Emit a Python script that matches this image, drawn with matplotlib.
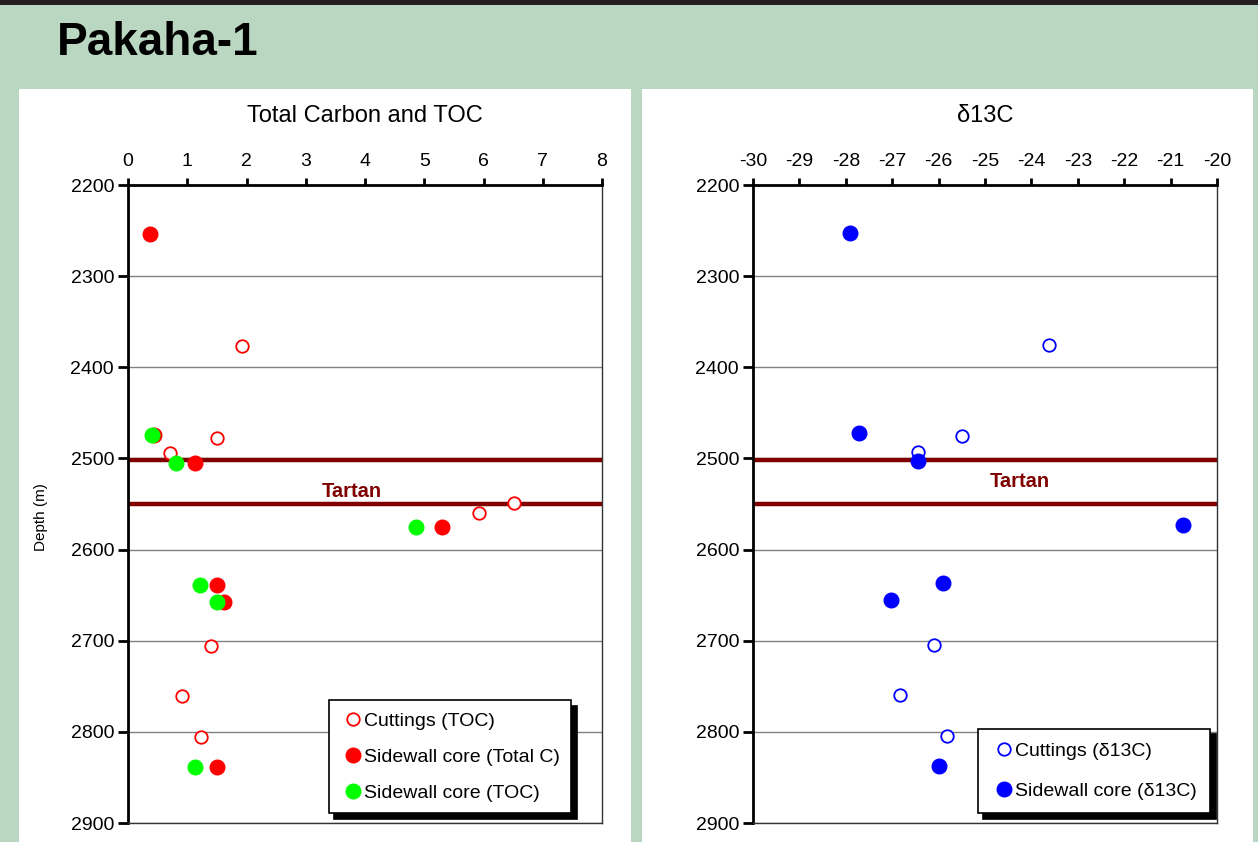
import matplotlib
matplotlib.use('Agg')
import matplotlib.pyplot as plt
from matplotlib.patches import Rectangle

plt.rcParams['font.family'] = ['Liberation Sans', 'DejaVu Sans']
plt.rcParams['axes.unicode_minus'] = False

# --- data ---
# Total Carbon and TOC panel
cut_toc_x = [1.92, 1.50, 0.71, 5.92, 6.51, 1.40, 0.91, 1.23]
cut_toc_depth = [2377, 2478, 2494, 2560, 2549, 2706, 2761, 2806]

swc_totc_x = [0.37, 0.44, 1.13, 5.30, 1.50, 1.62, 1.50]
swc_totc_depth = [2254, 2474, 2505, 2575, 2639, 2658, 2839]

swc_toc_x = [0.40, 0.81, 4.86, 1.22, 1.50, 1.13]
swc_toc_depth = [2474, 2505, 2575, 2639, 2658, 2839]

# delta 13C panel
cut_d13c_x = [-23.63, -25.50, -26.45, -26.10, -26.84, -25.81]
cut_d13c_depth = [2375, 2475, 2493, 2705, 2760, 2805]

swc_d13c_x = [-27.91, -27.72, -26.45, -20.73, -25.91, -27.03, -26.00]
swc_d13c_depth = [2253, 2472, 2503, 2573, 2637, 2655, 2837]

tartan_top = 2502
tartan_base = 2550

W, H = 1258, 842
fig = plt.figure(figsize=(W / 100, H / 100), dpi=100)
fig.patch.set_facecolor('#BAD7C1')

# dark band along the top and white panels (behind the axes)
fig.patches.append(Rectangle((0, 1 - 5 / H), 1, 5 / H, transform=fig.transFigure,
                             facecolor='#231F20', edgecolor='none', zorder=-2))
for x0, x1 in [(19, 631), (642, 1253)]:
    fig.patches.append(Rectangle((x0 / W, 0), (x1 - x0) / W, 1 - 89 / H,
                                 transform=fig.transFigure, facecolor='white',
                                 edgecolor='none', zorder=-2))

fig.text(57 / W, 1 - 43 / H, 'Pakaha-1', fontsize=33, fontweight='bold',
         va='center', ha='left')


def make_axes(x0, x1):
    ax = fig.add_axes([x0 / W, 1 - 823 / H, (x1 - x0) / W, (823 - 185) / H])
    ax.set_ylim(2900, 2200)
    ax.set_yticks(range(2200, 2901, 100))
    ax.xaxis.tick_top()
    ax.xaxis.set_label_position('top')
    ax.tick_params(axis='x', direction='out', length=5, width=2, labelsize=14, pad=6)
    ax.tick_params(axis='y', direction='out', length=7, width=2, labelsize=14, pad=3)
    ax.yaxis.grid(True, color='#808080', linewidth=1)
    ax.set_axisbelow(True)
    for side in ['left', 'top']:
        ax.spines[side].set_linewidth(2)
        ax.spines[side].set_color('black')
    for side in ['right', 'bottom']:
        ax.spines[side].set_linewidth(1)
        ax.spines[side].set_color('#333333')
    for d in [tartan_top, tartan_base]:
        ax.axhline(d, color='#800000', linewidth=3.2, zorder=2)
    return ax


def add_legend(ax, anchor, spacing, pad):
    leg = ax.legend(loc='lower right', bbox_to_anchor=anchor, fontsize=14,
                    frameon=True, fancybox=False, edgecolor='black', framealpha=1,
                    shadow={'color': 'black', 'alpha': 1, 'ox': 4, 'oy': -4},
                    handletextpad=-0.1, handlelength=1.3, labelspacing=spacing,
                    borderpad=pad, borderaxespad=0)
    leg.get_frame().set_linewidth(1.2)
    return leg


# left panel
ax1 = make_axes(128, 602)
ax1.set_xlim(0, 8)
ax1.set_xticks(range(0, 9))
ax1.set_title('Total Carbon and TOC', fontsize=17, pad=45)
ax1.set_ylabel('Depth (m)', fontsize=11)
ax1.yaxis.set_label_coords(-0.168, 0.48)
ax1.plot(cut_toc_x, cut_toc_depth, 'o', mfc='white', mec='red', mew=1.3, ms=9,
         ls='none', label='Cuttings (TOC)', zorder=4)
ax1.plot(swc_totc_x, swc_totc_depth, 'o', color='red', ms=10.5, ls='none',
         label='Sidewall core (Total C)', zorder=4)
ax1.plot(swc_toc_x, swc_toc_depth, 'o', color='#00FF00', ms=10.5, ls='none',
         label='Sidewall core (TOC)', zorder=5)
ax1.text(3.78, (tartan_top + tartan_base) / 2 + 10, 'Tartan', color='#800000',
         fontsize=14.5, fontweight='bold', ha='center', va='center')
add_legend(ax1, (0.935, 0.015), 0.95, 0.6)

# right panel
ax2 = make_axes(753, 1217)
ax2.set_xlim(-30, -20)
ax2.set_xticks(range(-30, -19))
ax2.set_title('\u03b413C', fontsize=17, pad=45)
ax2.plot(cut_d13c_x, cut_d13c_depth, 'o', mfc='white', mec='blue', mew=1.3, ms=9,
         ls='none', label='Cuttings (\u03b413C)', zorder=4)
ax2.plot(swc_d13c_x, swc_d13c_depth, 'o', color='blue', ms=10.5, ls='none',
         label='Sidewall core (\u03b413C)', zorder=5)
ax2.text(-24.24, (tartan_top + tartan_base) / 2 - 1, 'Tartan', color='#800000',
         fontsize=14.5, fontweight='bold', ha='center', va='center')
add_legend(ax2, (0.985, 0.015), 1.15, 0.7)

fig.savefig('out.png', dpi=100, facecolor=fig.get_facecolor())
